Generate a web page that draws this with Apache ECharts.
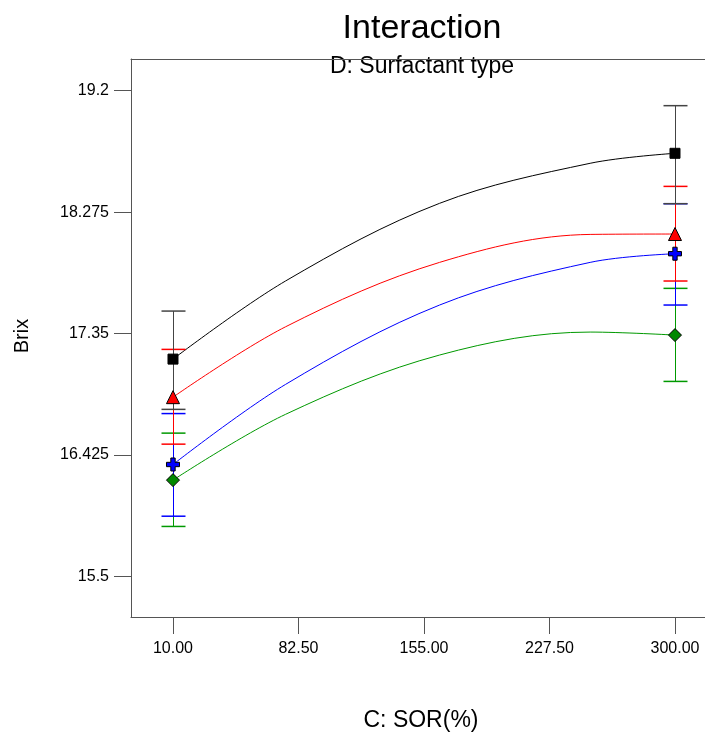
<!DOCTYPE html>
<html>
<head>
<meta charset="utf-8">
<script src="https://cdn.jsdelivr.net/npm/echarts@6/dist/echarts.min.js"></script>
<style>
html,body{margin:0;padding:0;background:#fff;}
#chart{width:705px;height:735px;}
</style>
</head>
<body>
<div id="chart"></div>
<script>
// ---- data ----
const sorTicks = [10, 82.5, 155, 227.5, 300];
const brixTicks = [15.5, 16.425, 17.35, 18.275, 19.2];

const curveX = [10, 75, 164, 251, 300];
const curveBlack = [17.155, 17.750, 18.342, 18.647, 18.723];
const curveRed   = [16.865, 17.401, 17.892, 18.105, 18.108];
const curveBlue  = [16.352, 16.962, 17.567, 17.892, 17.958];
const curveGreen = [16.233, 16.734, 17.186, 17.361, 17.338];

const pointX = [10, 300];
const meanBlack = [17.155, 18.723];
const meanRed   = [16.865, 18.108];
const meanBlue  = [16.352, 17.958];
const meanGreen = [16.233, 17.338];

const lowBlack = [16.772, 18.339], highBlack = [17.521, 19.086];
const lowRed   = [16.507, 17.750], highRed   = [17.229, 18.471];
const lowBlue  = [15.958, 17.567], highBlue  = [16.740, 18.339];
const lowGreen = [15.880, 16.985], highGreen = [16.591, 17.694];

const FONT = '"Liberation Sans", Arial, Helvetica, sans-serif';
const C_BLACK = '#000000', C_RED = '#ff0000', C_BLUE = '#0000ff', C_GREEN = '#009900';

function pairs(xs, ys) { return xs.map((x, i) => [x, ys[i]]); }
function bars(xs, lo, hi) { return xs.map((x, i) => [x, lo[i], hi[i]]); }

function errRender(color) {
  return function (params, api) {
    const x = api.value(0);
    const pLo = api.coord([x, api.value(1)]);
    const pHi = api.coord([x, api.value(2)]);
    const cx = Math.round(pLo[0]) + 0.5;
    const half = 12;
    return {
      type: 'group',
      children: [
        { type: 'line', shape: { x1: cx, y1: pHi[1], x2: cx, y2: pLo[1] }, style: { stroke: color, lineWidth: 1 } },
        { type: 'line', shape: { x1: cx - half, y1: pHi[1], x2: cx + half, y2: pHi[1] }, style: { stroke: color, lineWidth: 1.5 } },
        { type: 'line', shape: { x1: cx - half, y1: pLo[1], x2: cx + half, y2: pLo[1] }, style: { stroke: color, lineWidth: 1.5 } }
      ]
    };
  };
}

function curve(ys, color) {
  return {
    type: 'line', data: pairs(curveX, ys), smooth: 0.35, showSymbol: false, symbol: 'none',
    lineStyle: { color: color, width: 1 }, z: 2, silent: true
  };
}
function errSeries(lo, hi, color) {
  return {
    type: 'custom', data: bars(pointX, lo, hi), renderItem: errRender(color),
    encode: { x: 0, y: [1, 2] }, z: 3, silent: true
  };
}
function points(ys, symbol, size, fill) {
  return {
    type: 'scatter', data: pairs(pointX, ys), symbol: symbol, symbolSize: size,
    itemStyle: { color: fill, borderColor: '#000', borderWidth: 1, opacity: 1 }, z: 5, silent: true
  };
}

const crossPath = 'path://M4,0 L8,0 L8,4 L12,4 L12,8 L8,8 L8,12 L4,12 L4,8 L0,8 L0,4 L4,4 Z';

const chart = echarts.init(document.getElementById('chart'), null, { renderer: 'canvas' });

const axisLineStyle = { color: '#555555', width: 1 };

chart.setOption({
  animation: false,
  backgroundColor: '#ffffff',
  grid: { left: 131, top: 59, right: 0, bottom: 118 },
  xAxis: [{
    type: 'value', min: -14.26, max: 317.34, position: 'bottom',
    splitLine: { show: false },
    axisLine: { show: true, onZero: false, lineStyle: axisLineStyle },
    axisTick: { show: true, length: 17, customValues: sorTicks, lineStyle: axisLineStyle },
    axisLabel: {
      customValues: sorTicks, margin: 24, color: '#000', fontSize: 16, fontFamily: FONT,
      formatter: v => Number(v).toFixed(2)
    }
  }, {
    type: 'value', min: -14.26, max: 317.34, position: 'top',
    splitLine: { show: false },
    axisLine: { show: true, onZero: false, lineStyle: axisLineStyle },
    axisTick: { show: false }, axisLabel: { show: false }
  }],
  yAxis: {
    type: 'value', min: 15.190, max: 19.4416, position: 'left',
    splitLine: { show: false },
    axisLine: { show: true, onZero: false, lineStyle: axisLineStyle },
    axisTick: { show: true, length: 17, customValues: brixTicks, lineStyle: axisLineStyle },
    axisLabel: {
      customValues: brixTicks, margin: 22, color: '#000', fontSize: 16, fontFamily: FONT,
      formatter: v => String(v)
    }
  },
  graphic: [
    { type: 'text', x: 422, y: 29, style: { text: 'Interaction', fill: '#000', font: '34px ' + FONT, textAlign: 'center', textVerticalAlign: 'middle' } },
    { type: 'text', x: 422, y: 67, style: { text: 'D: Surfactant type', fill: '#000', font: '23px ' + FONT, textAlign: 'center', textVerticalAlign: 'middle' } },
    { type: 'text', x: 421, y: 721, style: { text: 'C: SOR(%)', fill: '#000', font: '23px ' + FONT, textAlign: 'center', textVerticalAlign: 'middle' } },
    { type: 'text', x: 22, y: 336, rotation: Math.PI / 2, style: { text: 'Brix', fill: '#000', font: '20px ' + FONT, textAlign: 'center', textVerticalAlign: 'middle' } }
  ],
  series: [
    curve(curveGreen, C_GREEN),
    curve(curveBlue, C_BLUE),
    curve(curveRed, C_RED),
    curve(curveBlack, C_BLACK),
    errSeries(lowGreen, highGreen, C_GREEN),
    errSeries(lowBlue, highBlue, C_BLUE),
    errSeries(lowRed, highRed, C_RED),
    errSeries(lowBlack, highBlack, '#444444'),
    points(meanBlack, 'rect', 10, '#000000'),
    points(meanRed, 'triangle', 13, '#ff0000'),
    points(meanBlue, crossPath, 13, '#0000ff'),
    points(meanGreen, 'diamond', 13, '#008800')
  ]
});
</script>
</body>
</html>
